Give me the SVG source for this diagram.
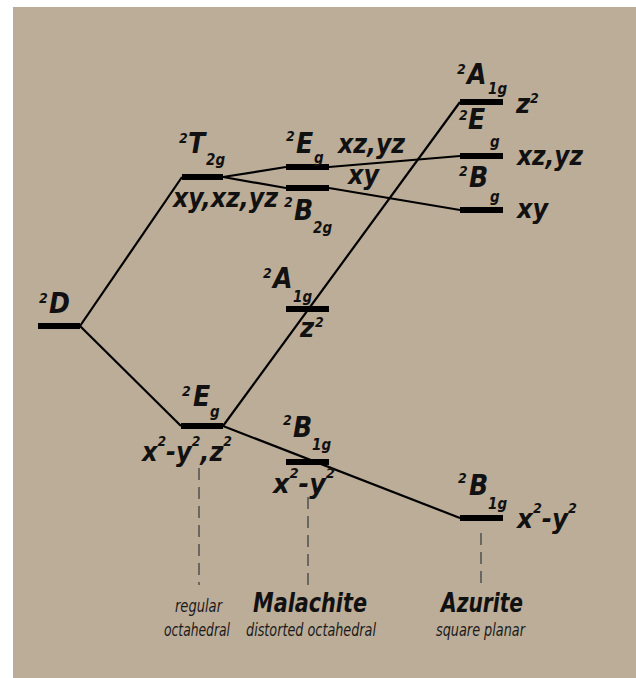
<svg xmlns="http://www.w3.org/2000/svg" width="636" height="678" viewBox="0 0 636 678">
<style>
.t{font-family:"DejaVu Sans Condensed","DejaVu Sans",sans-serif;font-stretch:condensed;font-weight:bold;font-style:oblique;fill:#111}
.m{font-size:28px}
.o{font-size:27px}
.sp{font-size:14px}
.sb{font-size:15px}
.n{font-family:"DejaVu Sans Condensed","DejaVu Sans",sans-serif;font-stretch:condensed;font-style:oblique;fill:#1a1a1a;font-size:18px}
.bar{fill:#000}
.ln{stroke:#000;stroke-width:2.2;fill:none}
.dash{stroke:#6b6660;stroke-width:2;stroke-dasharray:12 7;fill:none}
</style>
<rect x="0" y="0" width="636" height="678" fill="#ffffff"/>
<rect x="13" y="7" width="623" height="671" fill="#bcad98"/>

<g id="connectors">
<line class="ln" x1="80" y1="326" x2="182" y2="177"/>
<line class="ln" x1="80" y1="326" x2="181" y2="426"/>
<polyline class="ln" points="223,177 286,167"/>
<polyline class="ln" points="223,177 286,188"/>
<line class="ln" x1="329" y1="167" x2="460" y2="156"/>
<line class="ln" x1="329" y1="188" x2="460" y2="210"/>
<line class="ln" x1="223" y1="426" x2="460" y2="102"/>
<line class="ln" x1="223" y1="426" x2="460" y2="518"/>
</g>

<g id="guides">
<line class="dash" x1="199" y1="468" x2="199" y2="585"/>
<line class="dash" x1="308" y1="497" x2="308" y2="585"/>
<line class="dash" x1="481" y1="533" x2="481" y2="585"/>
</g>

<g id="D">
<rect class="bar" x="38" y="323" width="42" height="6"/>
<text class="t sp" x="39" y="303">2</text>
<text class="t m" x="49" y="313">D</text>
</g>

<g id="T2g">
<rect class="bar" x="182" y="174" width="41" height="6"/>
<text class="t sp" x="179" y="143">2</text>
<text class="t m" x="188" y="153">T</text>
<text class="t sb" x="206" y="165">2g</text>
<text class="t o" x="173" y="207" textLength="105" lengthAdjust="spacingAndGlyphs">xy,xz,yz</text>
</g>

<g id="Eg-mal">
<rect class="bar" x="286" y="164" width="43" height="6"/>
<text class="t sp" x="286" y="141">2</text>
<text class="t m" x="296" y="153">E</text>
<text class="t sb" x="314" y="163">g</text>
<text class="t o" x="338" y="153" textLength="67" lengthAdjust="spacingAndGlyphs">xz,yz</text>
</g>

<g id="B2g-mal">
<rect class="bar" x="286" y="185" width="43" height="6"/>
<text class="t o" x="348" y="184" textLength="31" lengthAdjust="spacingAndGlyphs">xy</text>
<text class="t sp" x="284" y="207">2</text>
<text class="t m" x="294" y="220">B</text>
<text class="t sb" x="313" y="233">2g</text>
</g>

<g id="A1g-mal">
<rect class="bar" x="286" y="306" width="43" height="6"/>
<text class="t sp" x="263" y="278">2</text>
<text class="t m" x="273" y="288">A</text>
<text class="t sb" x="293" y="302">1g</text>
<text class="t o" x="300" y="337">z</text>
<text class="t sp" x="315" y="327">2</text>
</g>

<g id="Eg-reg">
<rect class="bar" x="181" y="423" width="42" height="6"/>
<text class="t sp" x="182" y="396">2</text>
<text class="t m" x="193" y="406">E</text>
<text class="t sb" x="210" y="417">g</text>
<text class="t o" x="142" y="461" textLength="90" lengthAdjust="spacingAndGlyphs">x<tspan class="sp" dy="-15">2</tspan><tspan dy="15">-y</tspan><tspan class="sp" dy="-15">2</tspan><tspan dy="15">,z</tspan><tspan class="sp" dy="-15">2</tspan></text>
</g>

<g id="B1g-mal">
<rect class="bar" x="286" y="459" width="43" height="6"/>
<text class="t sp" x="283" y="425">2</text>
<text class="t m" x="293" y="437">B</text>
<text class="t sb" x="312" y="450">1g</text>
<text class="t o" x="273" y="493" textLength="62" lengthAdjust="spacingAndGlyphs">x<tspan class="sp" dy="-15">2</tspan><tspan dy="15">-y</tspan><tspan class="sp" dy="-15">2</tspan></text>
</g>

<g id="A1g-az">
<rect class="bar" x="460" y="99" width="43" height="6"/>
<text class="t sp" x="457" y="74">2</text>
<text class="t m" x="467" y="84">A</text>
<text class="t sb" x="488" y="94">1g</text>
<text class="t o" x="516" y="113">z</text>
<text class="t sp" x="530" y="103">2</text>
</g>

<g id="Eg-az">
<rect class="bar" x="460" y="153" width="43" height="6"/>
<text class="t sp" x="459" y="120">2</text>
<text class="t m" x="468" y="129">E</text>
<text class="t sb" x="490" y="147">g</text>
<text class="t o" x="517" y="165" textLength="66" lengthAdjust="spacingAndGlyphs">xz,yz</text>
</g>

<g id="Bg-az">
<rect class="bar" x="460" y="207" width="43" height="6"/>
<text class="t sp" x="459" y="176">2</text>
<text class="t m" x="469" y="187">B</text>
<text class="t sb" x="490" y="202">g</text>
<text class="t o" x="517" y="218" textLength="31" lengthAdjust="spacingAndGlyphs">xy</text>
</g>

<g id="B1g-az">
<rect class="bar" x="460" y="515" width="43" height="6"/>
<text class="t sp" x="458" y="483">2</text>
<text class="t m" x="469" y="495">B</text>
<text class="t sb" x="488" y="509">1g</text>
<text class="t o" x="517" y="528" textLength="60" lengthAdjust="spacingAndGlyphs">x<tspan class="sp" dy="-15">2</tspan><tspan dy="15">-y</tspan><tspan class="sp" dy="-15">2</tspan></text>
</g>

<g id="captions">
<text class="n" x="175" y="612" textLength="47" lengthAdjust="spacingAndGlyphs">regular</text>
<text class="n" x="164" y="636" textLength="66" lengthAdjust="spacingAndGlyphs">octahedral</text>
<text class="t" x="253" y="612" font-size="26" textLength="114" lengthAdjust="spacingAndGlyphs">Malachite</text>
<text class="n" x="246" y="636" textLength="130" lengthAdjust="spacingAndGlyphs">distorted octahedral</text>
<text class="t" x="441" y="612" font-size="26" textLength="82" lengthAdjust="spacingAndGlyphs">Azurite</text>
<text class="n" x="436" y="636" font-size="16" textLength="89" lengthAdjust="spacingAndGlyphs">square planar</text>
</g>
</svg>
